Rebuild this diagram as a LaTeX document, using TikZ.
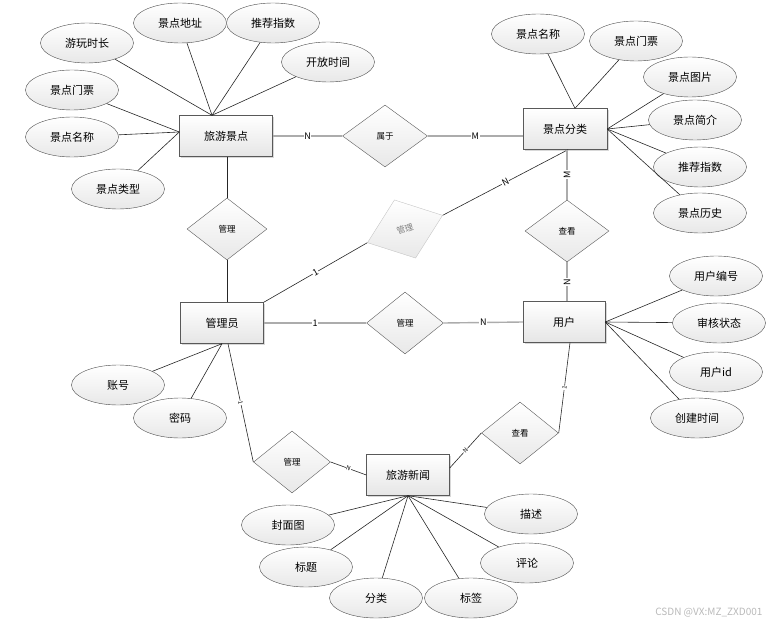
\documentclass[tikz,border=0pt]{standalone}
\usepackage{fontspec}
\setmainfont{Noto Sans CJK SC}
\usetikzlibrary{shapes,shadows}
\tikzstyle{entity}=[rectangle,draw=gray!70!black,top color=white,bottom color=gray!20,drop shadow={shadow xshift=1.5pt,shadow yshift=-1.5pt,fill=gray!60,opacity=0.5},minimum width=83pt,minimum height=41pt,font=\fontsize{11}{13}\selectfont]
\tikzstyle{attr}=[ellipse,draw=gray!60!black,top color=white,bottom color=gray!18,minimum width=93pt,minimum height=40pt,inner sep=0pt,font=\fontsize{11}{13}\selectfont]
\tikzstyle{rel}=[diamond,draw=gray!70!black,top color=white,bottom color=gray!18,minimum width=80pt,minimum height=62pt,inner sep=0pt,font=\fontsize{8.5}{10}\selectfont]
\tikzstyle{conn}=[draw=gray!65,line width=1.4pt]
\tikzstyle{link}=[draw=black!85,line width=0.6pt]
\tikzstyle{card}=[fill=white,inner sep=0.6pt,font=\fontsize{9}{10}\selectfont]

\begin{document}
\begin{tikzpicture}[x=1pt,y=-1pt]
\useasboundingbox (0,0) rectangle (770,628);
\node[entity,minimum width=93pt] (lyjd) at (226,136) {旅游景点};
\node[entity,minimum width=84pt] (jdfl) at (565,129) {景点分类};
\node[entity] (gly) at (222,323) {管理员};
\node[entity,minimum width=82pt] (yh) at (564,322) {用户};
\node[entity] (lyxw) at (408,475) {旅游新闻};
\node[rel,minimum width=85pt] (sy) at (385,136) {属于};
\node[rel] (gl1) at (227,229) {管理};
\node[rel,draw=gray!45,text=gray,rotate=20] (gl2) at (405,229) {管理};
\node[rel,minimum width=77pt] (gl3) at (405,323) {管理};
\node[rel,minimum width=77pt] (gl4) at (292,462) {管理};
\node[rel,minimum width=84pt] (ck1) at (567,231) {查看};
\node[rel,minimum width=77pt] (ck2) at (520,433) {查看};
\node[attr] (jd1) at (87,43) {游玩时长};
\node[attr] (jd2) at (180,23) {景点地址};
\node[attr] (jd3) at (273,23) {推荐指数};
\node[attr] (jd4) at (328,62) {开放时间};
\node[attr] (jd5) at (72,90) {景点门票};
\node[attr] (jd6) at (72,137) {景点名称};
\node[attr] (jd7) at (118,189) {景点类型};
\node[attr] (fl1) at (538,34) {景点名称};
\node[attr] (fl2) at (636,41) {景点门票};
\node[attr] (fl3) at (690,77) {景点图片};
\node[attr] (fl4) at (695,120) {景点简介};
\node[attr] (fl5) at (700,167) {推荐指数};
\node[attr] (fl6) at (700,213) {景点历史};
\node[attr] (yh1) at (716,276) {用户编号};
\node[attr] (yh2) at (719,323) {审核状态};
\node[attr] (yh3) at (716,372) {用户id};
\node[attr] (yh4) at (697,418) {创建时间};
\node[attr] (zh) at (118,385) {账号};
\node[attr] (mm) at (180,418) {密码};
\node[attr] (xw1) at (288,525) {封面图};
\node[attr] (xw2) at (306,567) {标题};
\node[attr] (xw3) at (376,598) {分类};
\node[attr] (xw4) at (471,598) {标签};
\node[attr] (xw5) at (527,563) {评论};
\node[attr] (xw6) at (531,514) {描述};
\node[text=gray!55,font=\fontsize{10}{12}\selectfont,anchor=east] (wm) at (766,613) {CSDN @VX:MZ\_ZXD001};
\coordinate (lyjd-t) at ([xshift=-14pt]lyjd.north);
\coordinate (lyjd-l) at ([yshift=4pt]lyjd.west);
\coordinate (jdfl-t) at ([xshift=10pt]jdfl.north);
\foreach \a in {jd1,jd2,jd3,jd4} \draw[link] (\a) -- (lyjd-t);
\foreach \a in {jd5,jd6,jd7} \draw[link] (\a) -- (lyjd-l);
\foreach \a in {fl1,fl2} \draw[link] (\a) -- (jdfl-t);
\foreach \a in {fl3,fl4,fl5,fl6} \draw[link] (\a) -- (jdfl.east);
\foreach \a in {yh1,yh2,yh3,yh4} \draw[link] (\a) -- (yh.east);
\foreach \a in {zh,mm} \draw[link] (\a) -- (gly.south);
\foreach \a in {xw1,xw2,xw3,xw4,xw5,xw6} \draw[link] (\a) -- (lyxw.south);
\draw[conn] (lyjd.east) -- node[card] {N} (sy.west);
\draw[conn] (sy.east) -- node[card] {M} (sy.east -| jdfl.west);
\draw[link] (lyjd.south -| gl1.north) -- (gl1.north);
\draw[link] (gl1.south) -- (gl1.south |- gly.north);
\draw[link] (gly.north east) -- node[card,sloped] {1} (gl2.west);
\draw[link] (gl2.east) -- node[card,sloped] {N} ([xshift=3pt]jdfl.south);
\draw[conn] (ck1.north |- jdfl.south) -- node[card,rotate=90] {M} (ck1.north);
\draw[conn] (ck1.south) -- node[card,rotate=90] {N} (ck1.south |- yh.north);
\draw[conn] (gly.east) -- node[card] {1} (gl3.west);
\draw[conn] (gl3.east) -- node[card] {N} (yh.west);
\draw[link] ([xshift=6pt]gly.south) -- node[card,sloped,font=\fontsize{6}{7}\selectfont] {1} (gl4.west);
\draw[link] (gl4.east) -- node[card,sloped,font=\fontsize{6}{7}\selectfont] {N} (lyxw.west);
\draw[link] ([yshift=7pt]lyxw.east) -- node[card,sloped,font=\fontsize{6}{7}\selectfont] {N} (ck2.west);
\draw[link] (ck2.east) -- node[card,sloped,font=\fontsize{6}{7}\selectfont] {1} ([xshift=6pt]yh.south);
\end{tikzpicture}
\end{document}
